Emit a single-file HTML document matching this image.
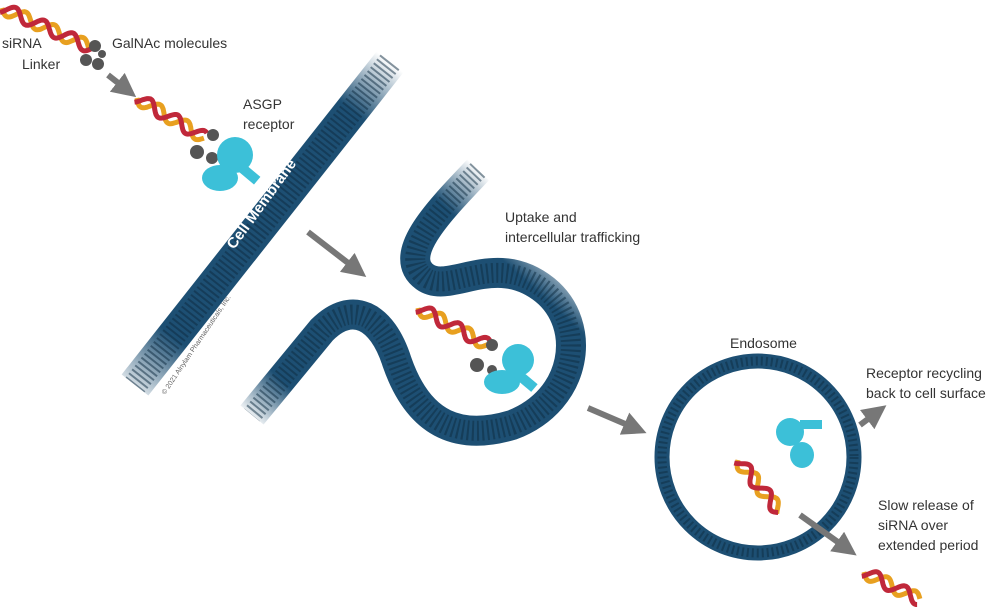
<!DOCTYPE html>
<html><head><meta charset="utf-8"><style>
body{margin:0;background:#fff;}
svg{display:block}
text{font-family:"Liberation Sans",sans-serif;font-size:14px;fill:#333}
</style></head><body>
<svg id="s" width="1000" height="612" viewBox="0 0 1000 612">
<defs>
<linearGradient id="m1" x1="390" y1="62" x2="135" y2="385" gradientUnits="userSpaceOnUse">
<stop offset="0" stop-color="#1d4f73" stop-opacity="0"/><stop offset="0.15" stop-color="#1d4f73"/><stop offset="0.85" stop-color="#1d4f73"/><stop offset="1" stop-color="#1d4f73" stop-opacity="0.2"/></linearGradient>
<linearGradient id="m2" x1="250" y1="420" x2="480" y2="170" gradientUnits="userSpaceOnUse">
<stop offset="0" stop-color="#1d4f73" stop-opacity="0"/><stop offset="0.15" stop-color="#1d4f73"/><stop offset="0.85" stop-color="#1d4f73"/><stop offset="1" stop-color="#1d4f73" stop-opacity="0"/></linearGradient>
<marker id="ah" markerWidth="4" markerHeight="4" refX="1" refY="2" orient="auto"><path d="M0,0 L4,2 L0,4z" fill="#777"/></marker>
</defs>
<line x1="390" y1="62" x2="135" y2="385" stroke="url(#m1)" stroke-width="34"/>
<line x1="390" y1="62" x2="135" y2="385" stroke="#0e2b40" stroke-width="24" stroke-dasharray="2 3" opacity="0.5"/>
<path d="M478,170 C440,210 395,255 425,277 C450,295 495,250 545,290 C588,325 578,400 512,425 C462,440 420,428 397,362 C382,315 352,300 322,330 L252,415" fill="none" stroke="url(#m2)" stroke-width="30"/>
<path d="M478,170 C440,210 395,255 425,277 C450,295 495,250 545,290 C588,325 578,400 512,425 C462,440 420,428 397,362 C382,315 352,300 322,330 L252,415" fill="none" stroke="#0e2b40" stroke-width="20" stroke-dasharray="2 3" opacity="0.5"/>
<circle cx="758" cy="457" r="96" fill="none" stroke="#1d4f73" stroke-width="15"/>
<circle cx="758" cy="457" r="96" fill="none" stroke="#0e2b40" stroke-width="9" stroke-dasharray="2 3" opacity="0.5"/>
<g stroke="#777" stroke-width="6" fill="none" marker-end="url(#ah)">
<line x1="108" y1="75" x2="122" y2="86"/>
<line x1="308" y1="232" x2="352" y2="266"/>
<line x1="588" y1="408" x2="630" y2="426"/>
<line x1="860" y1="425" x2="872" y2="416"/>
<line x1="800" y1="515" x2="842" y2="545"/>
</g>
<g id="hx"></g>
<g fill="#555">
<circle cx="95" cy="46" r="6"/><circle cx="86" cy="60" r="6"/><circle cx="98" cy="64" r="6"/><circle cx="102" cy="54" r="4"/>
<circle cx="213" cy="135" r="6"/><circle cx="197" cy="152" r="7"/><circle cx="212" cy="158" r="6"/>
<circle cx="492" cy="345" r="6"/><circle cx="477" cy="365" r="7"/><circle cx="492" cy="370" r="5"/>
</g>
<g fill="#3cc0d8">
<ellipse cx="235" cy="155" rx="18" ry="18"/><ellipse cx="220" cy="178" rx="18" ry="13"/><rect x="238" y="168" width="22" height="10" transform="rotate(40 248 173)"/>
<ellipse cx="518" cy="360" rx="16" ry="16"/><ellipse cx="502" cy="382" rx="18" ry="12"/><rect x="515" y="376" width="22" height="10" transform="rotate(40 526 381)"/>
<ellipse cx="790" cy="432" rx="14" ry="14"/><ellipse cx="802" cy="455" rx="12" ry="13"/><rect x="800" y="420" width="22" height="9"/>
</g>
<text transform="translate(234,250) rotate(-54)" style="fill:#fff;font-size:15px;font-weight:bold">Cell Membrane</text>
<text transform="translate(165,395) rotate(-56)" style="fill:#666;font-size:7px">© 2021 Alnylam Pharmaceuticals, Inc.</text>
<text x="2" y="48">siRNA</text>
<text x="22" y="69">Linker</text>
<text x="112" y="48">GalNAc molecules</text>
<text x="243" y="109">ASGP</text>
<text x="243" y="129">receptor</text>
<text x="505" y="222">Uptake and</text>
<text x="505" y="242">intercellular trafficking</text>
<text x="730" y="348">Endosome</text>
<text x="866" y="378">Receptor recycling</text>
<text x="866" y="398">back to cell surface</text>
<text x="878" y="510">Slow release of</text>
<text x="878" y="530">siRNA over</text>
<text x="878" y="550">extended period</text>
</svg>
<script>
var g=document.getElementById('hx');
function helix(x1,y1,x2,y2){
 var dx=x2-x1,dy=y2-y1,L=Math.hypot(dx,dy),ux=dx/L,uy=dy/L,nx=-uy,ny=ux;
 ['#e8a020','#c0283a'].forEach(function(c,k){
  var d='';for(var t=0;t<=L;t+=1){var o=6*Math.sin(t/5+k*2.2);var x=x1+ux*t+nx*o,y=y1+uy*t+ny*o;d+=(t?'L':'M')+x.toFixed(1)+','+y.toFixed(1);}
  var p=document.createElementNS('http://www.w3.org/2000/svg','path');p.setAttribute('d',d);p.setAttribute('stroke',c);p.setAttribute('stroke-width','5');p.setAttribute('fill','none');g.appendChild(p);
 });
}
helix(2,8,92,48);helix(137,98,205,138);helix(418,308,488,345);helix(738,460,780,512);helix(864,572,920,600);
</script>
</body></html>
